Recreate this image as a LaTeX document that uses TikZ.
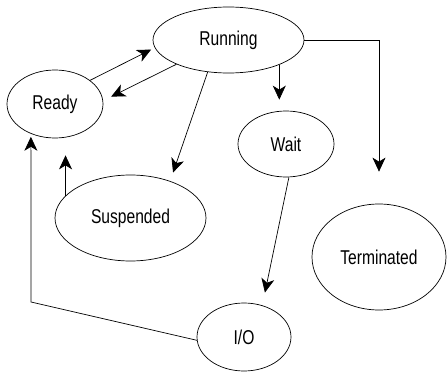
\documentclass[tikz,border=0pt]{standalone}
\usepackage{fontspec}
\setmainfont{Liberation Sans}[FakeStretch=0.78]
\usetikzlibrary{shapes.geometric,arrows.meta}

\begin{document}
\begin{tikzpicture}[x=1pt,y=-1pt,
    proc/.style={draw,ellipse,inner sep=0pt,line width=.7pt,
      font=\fontsize{20}{22}\selectfont},
    arr/.style={-{Stealth[length=14pt,width=13pt,inset=4pt]},line width=.7pt}]
  \useasboundingbox (0,0) rectangle (448,372);
  \node[proc,minimum width=151pt,minimum height=66pt] (run) at (228.5,40) {Running};
  \node[proc,minimum width=96pt,minimum height=68pt] (ready) at (55,104) {Ready};
  \node[proc,minimum width=96pt,minimum height=66pt] (wait) at (286,144) {Wait};
  \node[proc,minimum width=151pt,minimum height=86pt] (susp) at (130.5,218) {Suspended};
  \node[proc,minimum width=134pt,minimum height=106pt] (term) at (379,257) {Terminated};
  \node[proc,minimum width=94pt,minimum height=68pt] (io) at (244,337) {I/O};
  \coordinate (bend) at (31,302);
  % transitions
  \draw[arr,shorten >=4pt] (ready.34) -- (run.186);
  \draw[arr,shorten >=9pt] (run.205) -- (ready.4);
  \draw[arr,shorten >=9pt] (run.237) -- (susp.43);
  \draw[arr,shorten >=11pt] (run.334) -- (run.334 |- wait.north);
  \draw[arr,shorten >=32pt] (run.east) -| (term.north);
  \draw[arr,shorten >=13pt] (wait.275) -- (io.60);
  \draw[arr,shorten >=17pt] (susp.161) -- (susp.161 |- ready.south);
  \draw[arr,shorten >=3pt] (io.184) -- (bend) -- (ready.231);
\end{tikzpicture}
\end{document}
